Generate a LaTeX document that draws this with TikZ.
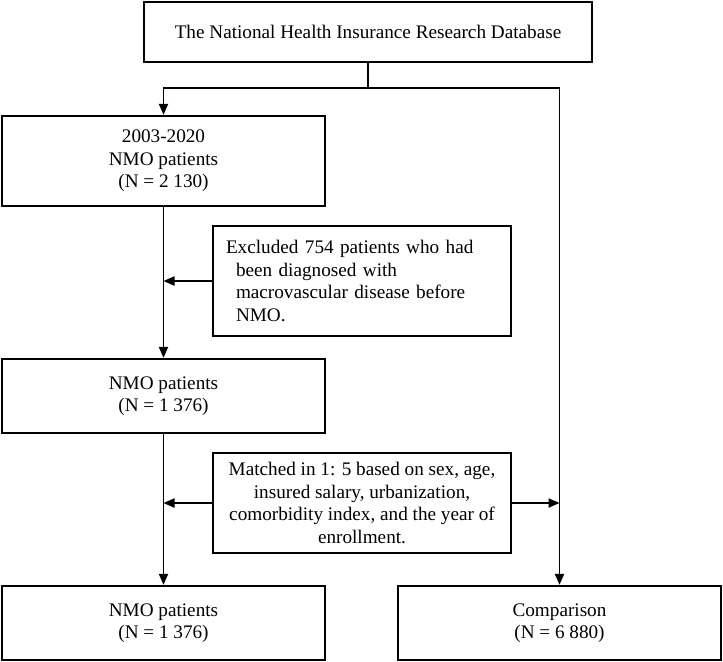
\documentclass[tikz,border=0pt]{standalone}
\usepackage{fontspec}
\setmainfont{Liberation Serif}
\usepackage{tikz}
\usetikzlibrary{calc,arrows.meta}

\begin{document}
\begin{tikzpicture}[x=0.5pt, y=-0.5pt,
  >={Triangle[length=5.5pt, width=4.6pt]},
  box/.style={draw, line width=1.2pt, inner sep=0pt, align=center, font=\fontsize{9.6}{11.25}\selectfont},
  link/.style={line width=0.75pt}]
  \useasboundingbox (0,0) rectangle (723,661);
  \node[box, minimum width=224pt, minimum height=30pt] (db) at (368,32) {The National Health Insurance Research Database};
  \node[box, minimum width=161.5pt, minimum height=45pt] (cohort) at (163.5,161) {2003-2020\\NMO patients\\(N = 2 130)};
  \node[box, minimum width=149pt, minimum height=55pt, align=left, inner xsep=6.5pt, text width=136pt] (excl) at (362,281) {Excluded 754 patients who had\\\hspace*{5pt}been diagnosed with\\\hspace*{5pt}macrovascular disease before\\\hspace*{5pt}NMO.};
  \node[box, minimum width=161.5pt, minimum height=37pt] (nmo) at (163.5,396) {NMO patients\\(N = 1 376)};
  \node[box, minimum width=149pt, minimum height=50pt] (match) at (362,503) {Matched in 1: 5 based on sex, age,\\insured salary, urbanization,\\comorbidity index, and the year of\\enrollment.};
  \node[box, minimum width=161.5pt, minimum height=37pt] (nmoend) at (163.5,623) {NMO patients\\(N = 1 376)};
  \node[box, minimum width=161.5pt, minimum height=37pt] (comp) at (559.5,623) {Comparison\\(N = 6 880)};
  \coordinate (split) at (368,88);
  % connectors
  \draw[link] (db.south) -- (split);
  \draw[link, ->] (split) -| (cohort.north);
  \draw[link, ->] (split) -| (comp.north);
  \draw[link, ->] (cohort.south) -- (nmo.north);
  \draw[link, ->] (excl.west) -- (excl.west -| cohort.south);
  \draw[link, ->] (nmo.south) -- (nmoend.north);
  \draw[link, ->] (match.west) -- (match.west -| nmo.south);
  \draw[link, ->] (match.east) -- (match.east -| comp.north);
\end{tikzpicture}
\end{document}
